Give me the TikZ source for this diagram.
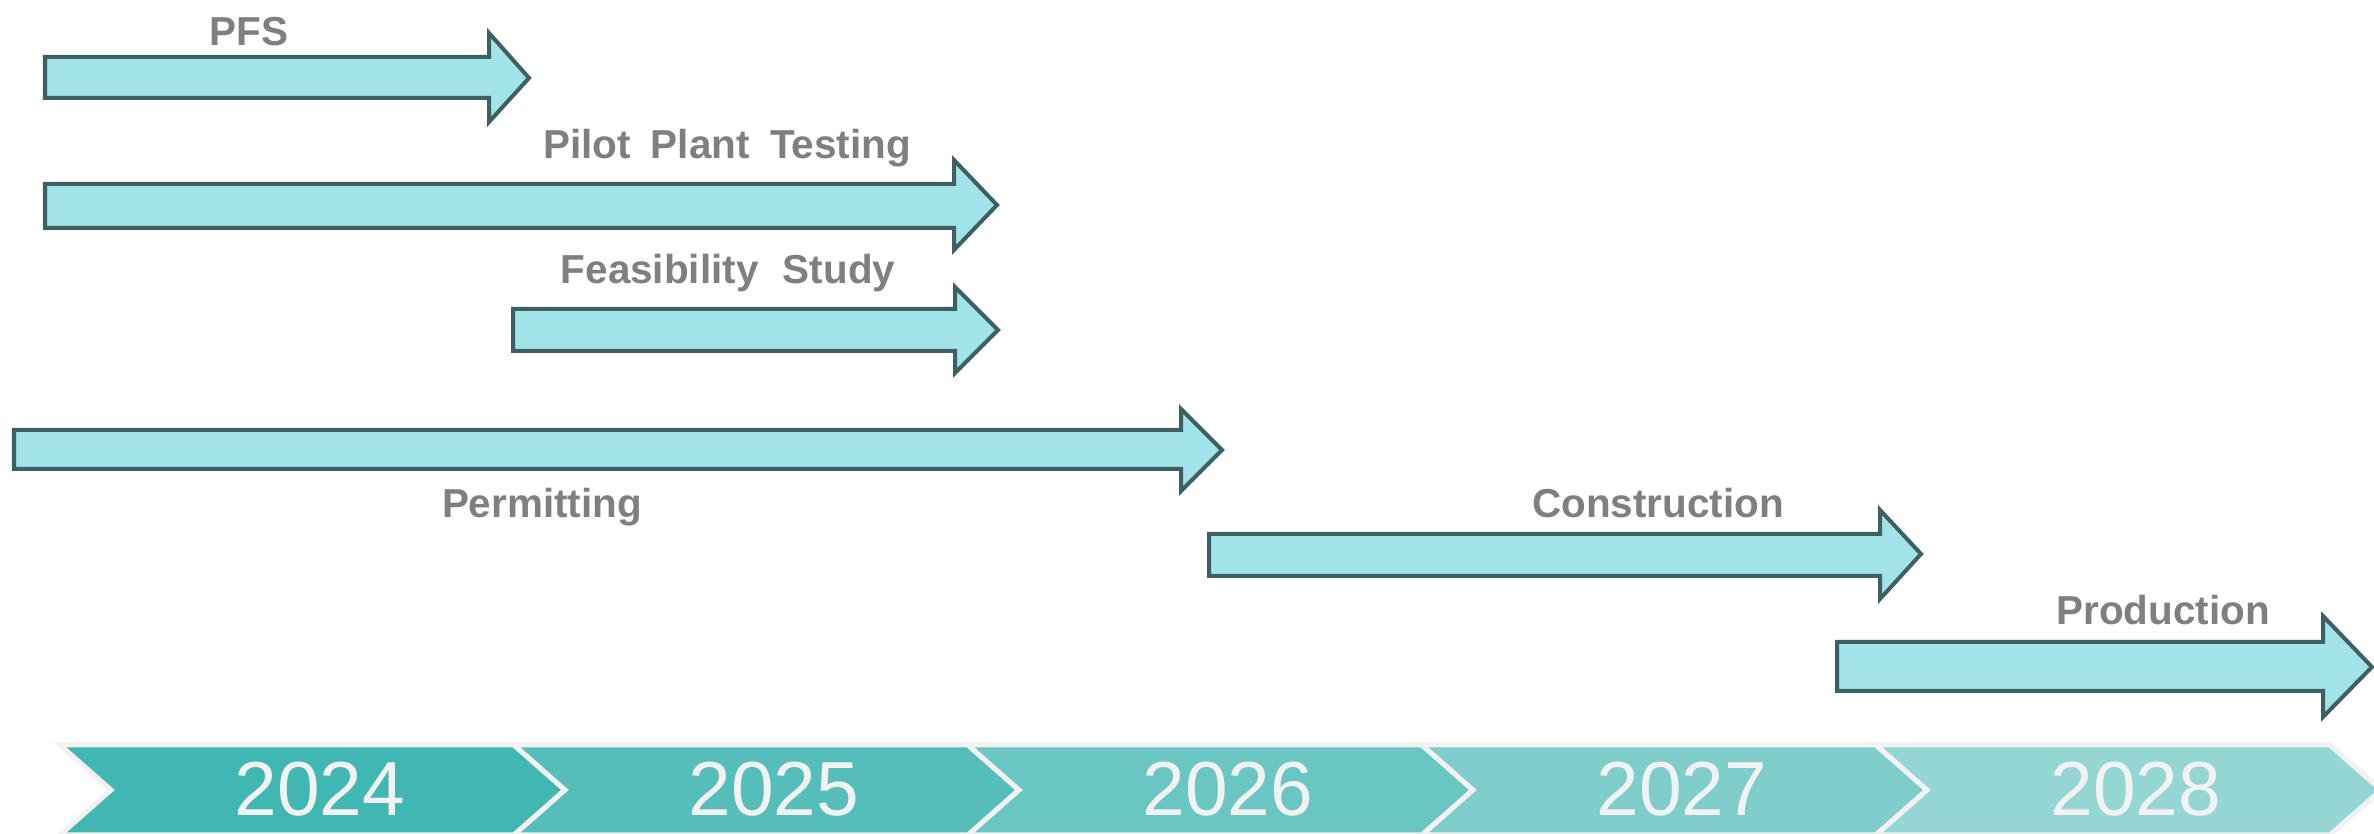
\documentclass[tikz,border=0pt]{standalone}
\usepackage{fontspec}
\setmainfont{Liberation Sans}
\definecolor{arrfill}{HTML}{A1E3E8}
\definecolor{arrline}{HTML}{3F6062}
\definecolor{lblgray}{HTML}{7F7F7F}
\definecolor{yeartxt}{HTML}{F2F2F2}
\definecolor{chevA}{HTML}{41B7B3}
\definecolor{chevB}{HTML}{55BEBA}
\definecolor{chevC}{HTML}{6AC6C2}
\definecolor{chevD}{HTML}{7ECDCA}
\definecolor{chevE}{HTML}{94D6D3}
\tikzset{
  arrowbox/.style={fill=arrfill,draw=arrline,line width=0.04cm,line join=miter},
  chevbox/.style={draw=yeartxt,line width=0.05cm,line join=miter},
  lbl/.style={inner sep=0pt,anchor=base,text=lblgray,font=\bfseries\fontsize{11.5}{14}\selectfont},
  yearlbl/.style={inner sep=0pt,anchor=base,text=yeartxt,font=\fontsize{21.8}{26}\selectfont}
}
% #1 left, #2 top, #3 bottom, #4 shaft right, #5 head top, #6 tip x, #7 tip y, #8 head bottom
\newcommand{\tlarrow}[8]{%
  \draw[arrowbox] (#1,#2) -- (#4,#2) -- (#4,#5) -- (#6,#7) -- (#4,#8) -- (#4,#3) -- (#1,#3) -- cycle;}
% #1 top-left x, #2 colour
\newcommand{\tlchev}[2]{%
  \draw[chevbox,fill=#2] (#1,745) -- ({#1+454},745) -- ({#1+505},790) -- ({#1+454},835)
     -- (#1,835) -- ({#1+51},790) -- cycle;}
\begin{document}
\begin{tikzpicture}[x=0.01cm,y=-0.01cm]
\useasboundingbox (0,0) rectangle (2374,834);
\clip (0,0) rectangle (2374,834);
% task arrows
\tlarrow{45}{57}{98}{489}{33}{529}{78}{122}
\tlarrow{45}{184}{228}{954}{160}{997}{205}{250}
\tlarrow{513}{309}{351}{955}{287}{998}{330}{373}
\tlarrow{14}{430}{469}{1181}{409}{1222}{450}{491}
\tlarrow{1209}{534}{576}{1880}{510}{1921}{554}{599}
\tlarrow{1837}{642}{691}{2323}{616}{2372}{667}{717}
% labels
\node[lbl] (pfs) at (249,46) {PFS};
\node[lbl] (pilot) at (727,159) {Pilot\hskip0.5em Plant\hskip0.5em Testing};
\node[lbl] (feas) at (728,284) {Feasibility\hskip0.6em Study};
\node[lbl] (perm) at (542,518) {Permitting};
\node[lbl] (constr) at (1658,518) {Construction};
\node[lbl] (prod) at (2163,625) {Production};
% timeline chevrons
\tlchev{60}{chevA}
\tlchev{514}{chevB}
\tlchev{968}{chevC}
\tlchev{1422}{chevD}
\tlchev{1876}{chevE}
\node[yearlbl] (y2024) at (320,816) {2024};
\node[yearlbl] (y2025) at (774,816) {2025};
\node[yearlbl] (y2026) at (1228,816) {2026};
\node[yearlbl] (y2027) at (1682,816) {2027};
\node[yearlbl] (y2028) at (2136,816) {2028};
\end{tikzpicture}
\end{document}
